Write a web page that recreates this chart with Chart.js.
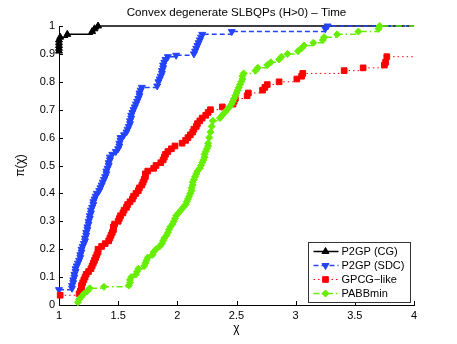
<!DOCTYPE html>
<html>
<head>
<meta charset="utf-8">
<script src="https://cdn.jsdelivr.net/npm/chart.js"></script>
<style>
  html, body { margin: 0; padding: 0; background: #fff; }
  #wrap { width: 457px; height: 344px; }
</style>
</head>
<body>
<div id="wrap"><canvas id="myChart"></canvas></div>
<script>
// performance profile data
const titleText = "Convex degenerate SLBQPs (H>0) \u2013 Time";
const seriesNames = ["P2GP (CG)", "P2GP (SDC)", "GPCG\u2212like", "PABBmin"];
const xTicks = [1, 1.5, 2, 2.5, 3, 3.5, 4];

const cgX = [1.00, 1.00, 1.00, 1.00, 1.00, 1.01, 1.07, 1.28, 1.30, 1.33, 4.00];
const cgY = [0.91, 0.92, 0.93, 0.94, 0.95, 0.96, 0.97, 0.98, 0.99, 1.00, 1.00];

const sdcX = [1.00, 1.11, 1.11, 1.12, 1.12, 1.13, 1.13, 1.14, 1.14, 1.15, 1.16, 1.17, 1.18, 1.18, 1.19, 1.19,
  1.20, 1.21, 1.22, 1.22, 1.23, 1.23, 1.24, 1.24, 1.25, 1.25, 1.26, 1.26, 1.27, 1.27, 1.28, 1.29, 1.29,
  1.30, 1.31, 1.32, 1.34, 1.35, 1.36, 1.37, 1.38, 1.39, 1.40, 1.40, 1.41, 1.42, 1.42, 1.43, 1.43, 1.45,
  1.48, 1.50, 1.51, 1.51, 1.52, 1.52, 1.55, 1.57, 1.58, 1.59, 1.60, 1.60, 1.61, 1.61, 1.62, 1.63, 1.64,
  1.65, 1.66, 1.67, 1.68, 1.68, 1.69, 1.70, 1.83, 1.84, 1.85, 1.86, 1.87, 1.87, 1.88, 1.88, 1.89, 1.90,
  1.92, 1.99, 2.14, 2.15, 2.16, 2.17, 2.18, 2.19, 2.20, 2.21, 2.46, 3.25, 3.27, 4.00];
const sdcY = [0.055, 0.06, 0.07, 0.08, 0.09, 0.10, 0.11, 0.12, 0.13, 0.14, 0.15, 0.16, 0.17, 0.18, 0.19, 0.20,
  0.21, 0.22, 0.23, 0.24, 0.25, 0.26, 0.27, 0.28, 0.29, 0.30, 0.31, 0.32, 0.33, 0.34, 0.35, 0.36, 0.37,
  0.38, 0.39, 0.40, 0.41, 0.42, 0.43, 0.44, 0.45, 0.46, 0.47, 0.48, 0.49, 0.50, 0.51, 0.52, 0.53, 0.54,
  0.55, 0.56, 0.57, 0.58, 0.59, 0.60, 0.61, 0.62, 0.63, 0.64, 0.65, 0.66, 0.67, 0.68, 0.69, 0.70, 0.71,
  0.72, 0.73, 0.74, 0.75, 0.76, 0.77, 0.78, 0.785, 0.80, 0.81, 0.82, 0.83, 0.84, 0.85, 0.86, 0.87, 0.88,
  0.89, 0.895, 0.90, 0.91, 0.92, 0.93, 0.94, 0.95, 0.96, 0.97, 0.98, 0.99, 1.00, 1.00];

const gpcgX = [1.01, 1.17, 1.18, 1.19, 1.19, 1.20, 1.21, 1.22, 1.23, 1.25, 1.27, 1.28, 1.29, 1.30, 1.31, 1.32,
  1.33, 1.33, 1.36, 1.39, 1.42, 1.43, 1.44, 1.45, 1.46, 1.46, 1.47, 1.50, 1.51, 1.52, 1.54, 1.55, 1.57,
  1.58, 1.60, 1.62, 1.63, 1.65, 1.67, 1.68, 1.70, 1.71, 1.72, 1.73, 1.73, 1.75, 1.80, 1.82, 1.86, 1.88,
  1.89, 1.90, 1.92, 1.95, 1.98, 2.04, 2.07, 2.09, 2.11, 2.13, 2.14, 2.16, 2.17, 2.19, 2.21, 2.24, 2.26,
  2.28, 2.38, 2.47, 2.48, 2.49, 2.59, 2.60, 2.72, 2.74, 2.76, 2.86, 3.01, 3.05, 3.06, 3.41, 3.57, 3.75,
  3.76, 3.77, 4.00];
const gpcgY = [0.035, 0.04, 0.05, 0.06, 0.07, 0.08, 0.09, 0.10, 0.11, 0.12, 0.13, 0.14, 0.15, 0.16, 0.17, 0.18,
  0.19, 0.20, 0.21, 0.22, 0.23, 0.24, 0.25, 0.26, 0.27, 0.28, 0.29, 0.30, 0.31, 0.32, 0.33, 0.34, 0.35,
  0.36, 0.37, 0.38, 0.39, 0.40, 0.41, 0.42, 0.43, 0.44, 0.45, 0.46, 0.47, 0.48, 0.49, 0.50, 0.51, 0.52,
  0.53, 0.54, 0.55, 0.56, 0.57, 0.58, 0.59, 0.60, 0.61, 0.62, 0.63, 0.64, 0.65, 0.66, 0.67, 0.68, 0.69,
  0.70, 0.71, 0.72, 0.73, 0.74, 0.75, 0.76, 0.77, 0.78, 0.79, 0.80, 0.81, 0.82, 0.83, 0.84, 0.85, 0.86,
  0.87, 0.89, 0.89];

const pabbX = [1.16, 1.17, 1.19, 1.21, 1.24, 1.26, 1.38, 1.59, 1.60, 1.60, 1.61, 1.65, 1.66, 1.67, 1.72, 1.73,
  1.74, 1.75, 1.79, 1.80, 1.82, 1.85, 1.87, 1.88, 1.89, 1.91, 1.92, 1.93, 1.94, 1.96, 1.97, 1.98, 1.99,
  2.01, 2.03, 2.05, 2.07, 2.08, 2.09, 2.10, 2.11, 2.12, 2.12, 2.13, 2.13, 2.14, 2.15, 2.16, 2.17, 2.19,
  2.20, 2.21, 2.22, 2.23, 2.23, 2.24, 2.25, 2.26, 2.26, 2.27, 2.28, 2.29, 2.30, 2.36, 2.38, 2.40, 2.42,
  2.44, 2.46, 2.47, 2.48, 2.49, 2.50, 2.51, 2.52, 2.53, 2.54, 2.55, 2.55, 2.56, 2.66, 2.68, 2.76, 2.79,
  2.86, 2.88, 2.93, 3.02, 3.05, 3.07, 3.15, 3.23, 3.24, 3.35, 3.53, 3.70, 3.71, 4.00];
const pabbY = [0.01, 0.02, 0.03, 0.04, 0.05, 0.06, 0.065, 0.07, 0.08, 0.09, 0.10, 0.11, 0.12, 0.13, 0.14, 0.15,
  0.16, 0.17, 0.18, 0.19, 0.20, 0.21, 0.22, 0.23, 0.24, 0.25, 0.26, 0.27, 0.28, 0.29, 0.30, 0.31, 0.32,
  0.33, 0.34, 0.35, 0.36, 0.37, 0.38, 0.39, 0.40, 0.41, 0.42, 0.43, 0.44, 0.45, 0.46, 0.47, 0.48, 0.49,
  0.50, 0.51, 0.52, 0.53, 0.54, 0.55, 0.56, 0.57, 0.58, 0.60, 0.62, 0.64, 0.66, 0.67, 0.68, 0.69, 0.70,
  0.71, 0.72, 0.73, 0.74, 0.75, 0.76, 0.77, 0.78, 0.79, 0.80, 0.81, 0.82, 0.83, 0.84, 0.85, 0.86, 0.87,
  0.88, 0.89, 0.90, 0.91, 0.92, 0.93, 0.94, 0.95, 0.96, 0.97, 0.98, 0.99, 1.00, 1.00];

const toPoints = (xs, ys) => xs.map((x, i) => ({ x: x, y: ys[i] }));
// no marker on the closing point at x = 4
const markerR = (r) => (ctx) => ctx.dataIndex === ctx.dataset.data.length - 1 ? 0 : r;
// matlab style tick text: 1, 0.9, 1.5 (no trailing zeros)
const tickText = (v) => String(Number(Number(v).toFixed(2)));

const fontFamily = "'Liberation Sans', Arial, sans-serif";

const styles = [
  { color: "#000000", dash: [], width: 1.5, point: "triangle", rot: 0, r: 4 },
  { color: "#2443ff", dash: [5, 3], width: 1.5, point: "triangle", rot: 180, r: 4 },
  { color: "#ff0000", dash: [1.5, 3], width: 1, point: "rect", rot: 0, r: 4 },
  { color: "#66ee00", dash: [6, 3, 1.5, 3], width: 1.5, point: "rectRot", rot: 0, r: 3.5 },
];

const makeSet = function (name, pts, s, order) {
  return {
    label: name,
    data: pts,
    stepped: true,
    borderColor: s.color,
    backgroundColor: s.color,
    borderWidth: s.width,
    borderDash: s.dash,
    pointStyle: s.point,
    pointRotation: s.rot,
    pointRadius: markerR(s.r),
    pointBorderWidth: 1,
    pointBorderColor: s.color,
    pointBackgroundColor: s.color,
    clip: false,
    order: order,
  };
};

// title over the axes, inward tick marks and the legend box, like the original figure
const figurePlugin = {
  id: "figurePlugin",
  afterDraw(chart) {
    const ctx = chart.ctx;
    const xs = chart.scales.x, ys = chart.scales.y;
    const area = chart.chartArea;
    ctx.save();

    ctx.fillStyle = "#000";
    ctx.font = "11.6px " + fontFamily;
    ctx.textAlign = "center";
    ctx.textBaseline = "middle";
    ctx.fillText(titleText, (area.left + area.right) / 2, 13);

    ctx.strokeStyle = "#000";
    ctx.lineWidth = 1;
    ctx.beginPath();
    xs.ticks.forEach((t) => {
      const px = Math.round(xs.getPixelForValue(t.value)) + 0.5;
      ctx.moveTo(px, area.bottom);
      ctx.lineTo(px, area.bottom - 4);
    });
    ys.ticks.forEach((t) => {
      const py = Math.round(ys.getPixelForValue(t.value)) + 0.5;
      ctx.moveTo(area.left, py);
      ctx.lineTo(area.left + 4, py);
    });
    ctx.stroke();

    // legend
    const bx = 308.5, by = 242.5, bw = 102, bh = 60;
    ctx.fillStyle = "#fff";
    ctx.fillRect(bx, by, bw, bh);
    ctx.strokeStyle = "#333";
    ctx.strokeRect(bx, by, bw, bh);
    ctx.font = "11px " + fontFamily;
    ctx.textAlign = "left";
    ctx.textBaseline = "middle";
    seriesNames.forEach((name, i) => {
      const s = styles[i];
      const ly = by + 9 + i * 14;
      ctx.strokeStyle = s.color;
      ctx.lineWidth = s.width;
      ctx.setLineDash(s.dash);
      ctx.beginPath();
      ctx.moveTo(bx + 5, ly);
      ctx.lineTo(bx + 30, ly);
      ctx.stroke();
      ctx.setLineDash([]);
      ctx.fillStyle = s.color;
      ctx.lineWidth = 1;
      Chart.helpers.drawPoint(ctx, { pointStyle: s.point, radius: s.r, rotation: s.rot, borderWidth: 1 }, bx + 17, ly);
      ctx.fillStyle = "#000";
      ctx.fillText(name, bx + 33, ly + 0.5);
    });
    ctx.restore();
  },
};

const tickFont = { family: fontFamily, size: 11 };

const ctx = document.getElementById("myChart").getContext("2d");
const myChart = new Chart(ctx, {
  type: "line",
  data: {
    datasets: [
      makeSet(seriesNames[0], toPoints(cgX, cgY), styles[0], 3),
      makeSet(seriesNames[1], toPoints(sdcX, sdcY), styles[1], 2),
      makeSet(seriesNames[2], toPoints(gpcgX, gpcgY), styles[2], 1),
      makeSet(seriesNames[3], toPoints(pabbX, pabbY), styles[3], 0),
    ],
  },
  options: {
    responsive: true,
    maintainAspectRatio: false,
    animation: false,
    layout: { padding: { left: 0, right: 43, top: 26, bottom: 0 } },
    scales: {
      x: {
        type: "linear",
        min: 1,
        max: 4,
        afterBuildTicks: (scale) => { scale.ticks = xTicks.map((v) => ({ value: v })); },
        afterFit: (scale) => { scale.height = 39; },
        grid: { display: false, drawTicks: false },
        border: { display: true, color: "#000", width: 1 },
        ticks: { color: "#000", font: tickFont, padding: 4, maxRotation: 0, callback: tickText },
        title: { display: true, text: "\u03c7", color: "#000", font: { family: fontFamily, size: 12 }, padding: { top: 0, bottom: 8 } },
      },
      y: {
        type: "linear",
        min: 0,
        max: 1,
        afterFit: (scale) => { scale.width = 59; },
        grid: { display: false, drawTicks: false },
        border: { display: true, color: "#000", width: 1 },
        ticks: { stepSize: 0.1, color: "#000", font: tickFont, padding: 4, callback: tickText },
        title: { display: true, text: "\u03c0(\u03c7)", color: "#000", font: { family: fontFamily, size: 12 }, padding: { top: 13, bottom: 0 } },
      },
    },
    plugins: {
      legend: { display: false },
      tooltip: { enabled: false },
      title: { display: false },
    },
  },
  plugins: [figurePlugin],
});
</script>
</body>
</html>
